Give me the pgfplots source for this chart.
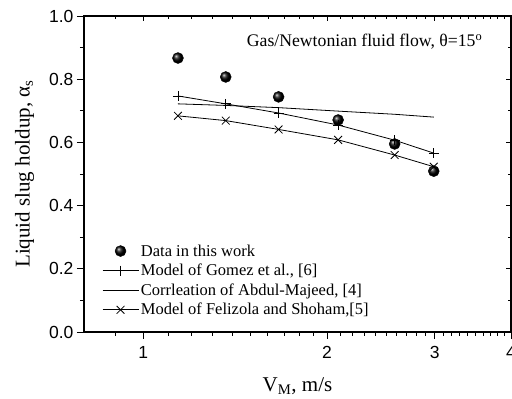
\documentclass[border=0pt]{standalone}
\usepackage{fontspec}
\setmainfont{Liberation Serif}
\newfontfamily\tickfont{Liberation Sans}
\usepackage{pgfplots}
\pgfplotsset{compat=1.18}
\begin{document}
\begin{tikzpicture}
\useasboundingbox (-84pt,-67pt) rectangle (428pt,332pt);
\begin{axis}[
  scale only axis, width=427pt, height=316pt,
  xmode=log, xmin=0.8, xmax=4, ymin=0, ymax=1,
  xtick={1,2,3,4}, xticklabels={1,2,3,4},
  minor xtick={0.9,1.1,1.2,1.3,1.4,1.5,1.6,1.7,1.8,1.9,2.1,2.2,2.3,2.4,2.5,2.6,2.7,2.8,2.9,3.1,3.2,3.3,3.4,3.5,3.6,3.7,3.8,3.9},
  ytick={0,0.2,0.4,0.6,0.8,1.0},
  minor ytick={0.1,0.3,0.5,0.7,0.9},
  yticklabel style={/pgf/number format/.cd, fixed, fixed zerofill, precision=1},
  xticklabel style={yshift=-4pt},
  /pgf/number format/assume math mode=true,
  ticklabel style={font=\tickfont\fontsize{17.5}{17.5}\selectfont},
  tick align=outside, xtick pos=left, ytick pos=left,
  major tick length=7pt, minor tick length=4pt,
  tick style={line width=0.9pt, black},
  axis line style={line width=1.3pt},
  xlabel={V\textsubscript{M}, m/s},
  ylabel={Liquid slug holdup, α\textsubscript{s}},
  label style={font=\fontsize{21}{21}\selectfont},
  xlabel style={yshift=-12pt},
  ylabel style={yshift=8pt},
  legend cell align=left,
  legend style={draw=none, fill=none, at={(rel axis cs:0.035,0.29)}, anchor=north west,
    font=\fontsize{16.5}{18}\selectfont, row sep=2.5pt},
  legend image code/.code={\draw[mark repeat=2,mark phase=2,#1] plot coordinates {(0pt,0pt)(18pt,0pt)(36pt,0pt)};},
]
\addplot[only marks, mark=ball, mark size=5.5pt, ball color=black] coordinates {
(1.14,0.867) (1.365,0.807) (1.666,0.744) (2.085,0.671) (2.58,0.595) (2.99,0.509)};
\addlegendentry{Data in this work}
\addplot[black, line width=0.8pt, mark=+, mark size=5pt] coordinates {
(1.14,0.747) (1.365,0.722) (1.666,0.693) (2.085,0.655) (2.58,0.607) (2.99,0.566)};
\addlegendentry{Model of Gomez et al., [6]}
\addplot[black, line width=0.8pt] coordinates {
(1.14,0.722) (1.365,0.717) (1.666,0.710) (2.085,0.699) (2.58,0.689) (2.99,0.680)};
\addlegendentry{Corrleation of Abdul-Majeed, [4]}
\addplot[black, line width=0.8pt, mark=x, mark size=5.5pt] coordinates {
(1.14,0.684) (1.365,0.669) (1.666,0.641) (2.085,0.608) (2.58,0.560) (2.99,0.523)};
\addlegendentry{Model of Felizola and Shoham,[5]}
\node[anchor=east, font=\fontsize{17.7}{17.7}\selectfont] at (rel axis cs:0.941,0.918) {Gas/Newtonian fluid flow, θ=15\textsuperscript{o}};
\end{axis}
\begin{axis}[
  scale only axis, width=427pt, height=316pt,
  xmode=log, xmin=0.8, xmax=4, ymin=0, ymax=1,
  xtick={1,2,3,4}, xticklabels={},
  minor xtick={0.9,1.1,1.2,1.3,1.4,1.5,1.6,1.7,1.8,1.9,2.1,2.2,2.3,2.4,2.5,2.6,2.7,2.8,2.9,3.1,3.2,3.3,3.4,3.5,3.6,3.7,3.8,3.9},
  ytick={0,0.2,0.4,0.6,0.8,1.0}, yticklabels={},
  minor ytick={0.1,0.3,0.5,0.7,0.9},
  tick align=inside, xtick pos=right, ytick pos=right,
  major tick length=5pt, minor tick length=3pt,
  tick style={line width=0.7pt, black},
  axis line style={line width=1.3pt},
]
\end{axis}
\end{tikzpicture}
\end{document}
